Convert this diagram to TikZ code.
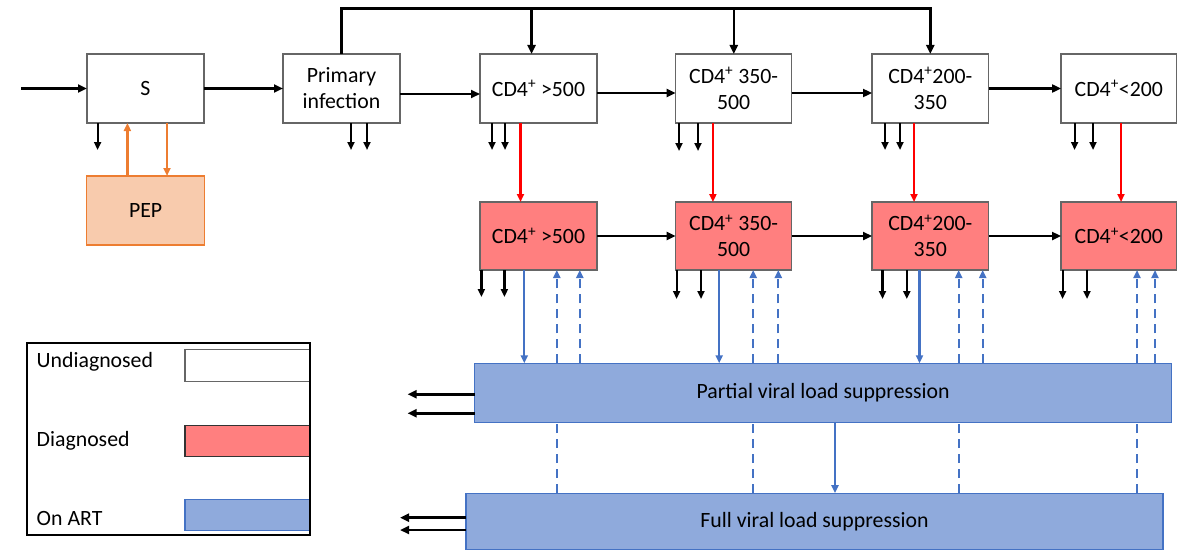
\documentclass[tikz,border=0pt]{standalone}
\usepackage{fontspec}
\setmainfont{Carlito}
\usetikzlibrary{arrows.meta}
\definecolor{boxborder}{HTML}{666666}
\definecolor{diagfill}{HTML}{FF7F7F}
\definecolor{artfill}{HTML}{8FAADC}
\definecolor{artline}{HTML}{4472C4}
\definecolor{pepfill}{HTML}{F8CBAD}
\definecolor{pepline}{HTML}{ED7D31}
\definecolor{redarrow}{HTML}{FF0000}
\begin{document}
\begin{tikzpicture}[x=1pt,y=-1pt,
  font=\fontsize{21.8}{26}\selectfont,
  every node/.style={inner sep=0pt,outer sep=0pt},
  basebox/.style={draw=boxborder,line width=1.2pt,minimum width=117pt,minimum height=69pt,align=center},
  undiag/.style={basebox,fill=white},
  diag/.style={basebox,fill=diagfill,minimum height=68pt},
  artbox/.style={draw=artline,fill=artfill,line width=1.2pt,minimum width=697pt},
  pepbox/.style={draw=pepline,fill=pepfill,line width=1.2pt,minimum width=118pt,minimum height=69pt},
  mainarr/.style={line width=2.5pt,-{Triangle[length=9pt,width=8pt]}},
  outarr/.style={line width=2.2pt,-{Triangle[length=8pt,width=7pt]}},
  redarr/.style={color=redarrow,line width=2.2pt,-{Triangle[length=8pt,width=7pt]}},
  peparr/.style={color=pepline,line width=2.2pt,-{Triangle[length=8pt,width=7pt]}},
  bluearr/.style={color=artline,line width=2.2pt,-{Triangle[length=8pt,width=7pt]}},
  bluedash/.style={bluearr,dash pattern=on 9pt off 6pt},
  bluedashline/.style={color=artline,line width=2.2pt,dash pattern=on 9pt off 6pt},
]
\useasboundingbox (0,0) rectangle (1186,551);

% top row
\node[undiag] (S) at (145.5,88.5) {S};
\node[undiag] (P) at (341.5,88.5) {Primary\\infection};
\node[undiag] (U1) at (538.5,88.5) {CD4\textsuperscript{+}\ >500};
\node[undiag,minimum width=116pt] (U2) at (733.6,88.5) {CD4\textsuperscript{+}\ 350-\\500};
\node[undiag,minimum width=116.6pt] (U3) at (930.3,88.5) {CD4\textsuperscript{+}200-\\350};
\node[undiag,minimum width=115.6pt] (U4) at (1118.8,88.5) {CD4\textsuperscript{+}<200};

% PEP
\node[pepbox] (PEP) at (145.6,210.5) {PEP};

% diagnosed row
\node[diag] (D1) at (538.5,236) {CD4\textsuperscript{+}\ >500};
\node[diag,minimum width=116pt] (D2) at (733.6,236) {CD4\textsuperscript{+}\ 350-\\500};
\node[diag,minimum width=116.6pt] (D3) at (930.3,236) {CD4\textsuperscript{+}200-\\350};
\node[diag,minimum width=115.6pt] (D4) at (1118.8,236) {CD4\textsuperscript{+}<200};

% ART boxes
\node[artbox,minimum height=59pt] (PA) at (823.1,392.8) {Partial viral load suppression};
\node[artbox,minimum height=56pt] (FU) at (814.5,521.2) {Full viral load suppression};

% main horizontal flow
\coordinate (in) at (21,88.5);
\draw[mainarr] (in) -- (S.west);
\draw[mainarr] (S.east) -- (P.west);
\draw[mainarr] (P.east |- 0,94) -- (U1.west |- 0,94);
\draw[mainarr] (U1.east |- 0,93) -- (U2.west |- 0,93);
\draw[mainarr] (U2.east |- 0,93) -- (U3.west |- 0,93);
\draw[mainarr] (U3.east) -- (U4.west);
\draw[mainarr] (D1.east) -- (D2.west);
\draw[mainarr] (D2.east) -- (D3.west);
\draw[mainarr] (D3.east) -- (D4.west);

% top loop
\coordinate (topleft) at (341.5,8.3);
\coordinate (topright) at (930.3,8.3);
\draw[mainarr] (P.north) -- (topleft) -- (topright) -- (U3.north);
\draw[mainarr] (531.6,8.3) -- (U1.north -| 531.6,0);
\draw[mainarr] (733.8,8.3) -- (U2.north -| 733.8,0);

% exits from top row
\draw[outarr] (S.south -| 97.6,0) -- ++(0,27);
\draw[outarr] (P.south -| 351,0) -- ++(0,27);
\draw[outarr] (P.south -| 367,0) -- ++(0,27);
\draw[outarr] (U1.south -| 492,0) -- ++(0,27);
\draw[outarr] (U1.south -| 505,0) -- ++(0,27);
\draw[outarr] (U2.south -| 679,0) -- ++(0,28);
\draw[outarr] (U2.south -| 698,0) -- ++(0,28);
\draw[outarr] (U3.south -| 885,0) -- ++(0,27);
\draw[outarr] (U3.south -| 900,0) -- ++(0,27);
\draw[outarr] (U4.south -| 1074.6,0) -- ++(0,27);
\draw[outarr] (U4.south -| 1093,0) -- ++(0,27);

% PEP arrows
\draw[peparr] (PEP.north -| 127.4,0) -- (S.south -| 127.4,0);
\draw[peparr] (S.south -| 167,0) -- (PEP.north -| 167,0);

% diagnosis arrows
\draw[redarr] (U1.south -| 520.5,0) -- (D1.north -| 520.5,0);
\draw[redarr] (U2.south -| 712.9,0) -- (D2.north -| 712.9,0);
\draw[redarr] (U3.south -| 914,0) -- (D3.north -| 914,0);
\draw[redarr] (U4.south -| 1121,0) -- (D4.north -| 1121,0);

% exits from diagnosed row
\draw[outarr] (D1.south -| 481.4,0) -- ++(0,27);
\draw[outarr] (D1.south -| 504.4,0) -- ++(0,27);
\draw[outarr] (D2.south -| 676.6,0) -- ++(0,29);
\draw[outarr] (D2.south -| 701,0) -- ++(0,29);
\draw[outarr] (D3.south -| 882.5,0) -- ++(0,29);
\draw[outarr] (D3.south -| 906.8,0) -- ++(0,29);
\draw[outarr] (D4.south -| 1062.6,0) -- ++(0,29);
\draw[outarr] (D4.south -| 1087,0) -- ++(0,29);

% start ART
\draw[bluearr] (D1.south -| 524.3,0) -- (PA.north -| 524.3,0);
\draw[bluearr] (D2.south -| 719.2,0) -- (PA.north -| 719.2,0);
\draw[bluearr] (D3.south -| 919.5,0) -- (PA.north -| 919.5,0);
\draw[bluearr] (PA.south -| 835,0) -- (FU.north -| 835,0);

% failure from full suppression (through partial)
\draw[bluedashline] (FU.north -| 556.8,0) -- (PA.south -| 556.8,0);
\draw[bluedash] (PA.north -| 556.8,0) -- (D1.south -| 556.8,0);
\draw[bluedashline] (FU.north -| 753.2,0) -- (PA.south -| 753.2,0);
\draw[bluedash] (PA.north -| 753.2,0) -- (D2.south -| 753.2,0);
\draw[bluedashline] (FU.north -| 958.7,0) -- (PA.south -| 958.7,0);
\draw[bluedash] (PA.north -| 958.7,0) -- (D3.south -| 958.7,0);
\draw[bluedashline] (FU.north -| 1137,0) -- (PA.south -| 1137,0);
\draw[bluedash] (PA.north -| 1137,0) -- (D4.south -| 1137,0);

% failure from partial suppression
\draw[bluedash] (PA.north -| 579.8,0) -- (D1.south -| 579.8,0);
\draw[bluedash] (PA.north -| 778.3,0) -- (D2.south -| 778.3,0);
\draw[bluedash] (PA.north -| 982.7,0) -- (D3.south -| 982.7,0);
\draw[bluedash] (PA.north -| 1155,0) -- (D4.south -| 1155,0);

% exits from ART boxes
\draw[mainarr] (PA.west |- 0,394.3) -- (407.6,394.3);
\draw[mainarr] (PA.west |- 0,413.3) -- (407.6,413.3);
\draw[mainarr] (FU.west |- 0,517.7) -- (400,517.7);
\draw[mainarr] (FU.west |- 0,530) -- (400,530);

% legend
\node[anchor=west] (lu) at (36.7,361.7) {Undiagnosed};
\node[anchor=west] (ld) at (36.7,441) {Diagnosed};
\node[anchor=west] (la) at (36.7,518) {On ART};
\node[draw=boxborder,fill=white,line width=1.2pt,minimum width=125pt,minimum height=32pt] (sw1) at (247.5,365.5) {};
\node[draw=black!80,fill=diagfill,line width=1.2pt,minimum width=125pt,minimum height=31pt] (sw2) at (247.5,441.2) {};
\node[draw=artline,fill=artfill,line width=1.2pt,minimum width=125pt,minimum height=31pt] (sw3) at (247.5,514.7) {};
\node[draw=black,line width=1.8pt,minimum width=283pt,minimum height=192pt] (leg) at (168.4,439.2) {};
\end{tikzpicture}
\end{document}
